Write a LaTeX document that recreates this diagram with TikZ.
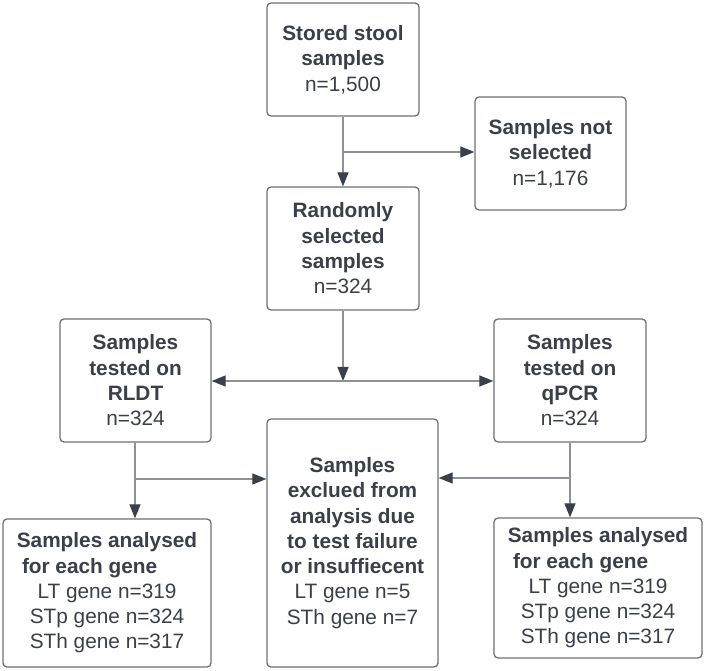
\documentclass[tikz,border=0pt]{standalone}
\usepackage{fontspec}
\setmainfont{Liberation Sans}
\usetikzlibrary{arrows.meta}
\definecolor{txt}{HTML}{3B3F4A}
\definecolor{bord}{HTML}{6E7178}
\definecolor{conn}{HTML}{8E9196}
\begin{document}
\begin{tikzpicture}[x=1pt,y=-1pt,
  box/.style={draw=bord,line width=1.3pt,rounded corners=4pt,fill=white,text=txt,
    align=center,inner sep=0pt,font=\fontsize{20.8}{25.3}\selectfont},
  conn/.style={draw=conn,line width=1.2pt},
  arr/.style={conn,-{Triangle[length=14pt,width=11pt,color=txt]}}]
\fill[white] (0,0) rectangle (705,671);
\useasboundingbox (0,0) rectangle (705,671);

\node[box,minimum width=152pt,minimum height=113pt] (stored) at (343,59.5)
  {\textbf{Stored stool}\\\textbf{samples}\\n=1,500};
\node[box,minimum width=151pt,minimum height=113pt] (notsel) at (550.5,153.5)
  {\textbf{Samples not}\\\textbf{selected}\\n=1,176};
\node[box,minimum width=152pt,minimum height=123pt] (rand) at (343,248.5)
  {\textbf{Randomly}\\\textbf{selected}\\\textbf{samples}\\n=324};
\node[box,minimum width=151pt,minimum height=123pt] (rldt) at (135.5,380.5)
  {\textbf{Samples}\\\textbf{tested on}\\\textbf{RLDT}\\n=324};
\node[box,minimum width=152pt,minimum height=123pt] (qpcr) at (570,380.5)
  {\textbf{Samples}\\\textbf{tested on}\\\textbf{qPCR}\\n=324};
\node[box,minimum width=171pt,minimum height=248pt] (excl) at (352.5,543)
  {\textbf{Samples}\\\textbf{exclued from}\\\textbf{analysis due}\\\textbf{to test failure}\\\textbf{or insuffiecent}\\LT gene n=5\\STh gene n=7};
\node[box,minimum width=208pt,minimum height=148pt] (anl) at (107,593)
  {\textbf{Samples analysed}\\\makebox[180pt][l]{\hspace{5pt}\textbf{for each gene}}\\LT gene n=319\\STp gene n=324\\STh gene n=317};
\node[box,minimum width=208pt,minimum height=140pt] (anr) at (598,588)
  {\textbf{Samples analysed}\\\makebox[180pt][l]{\hspace{5pt}\textbf{for each gene}}\\LT gene n=319\\STp gene n=324\\STh gene n=317};

\coordinate (s1) at (343,152);
\coordinate (j1) at (343,381);
\coordinate (b1) at (135,479);
\coordinate (b2) at (570,478);

\draw[arr] (stored.south) -- (rand.north);
\draw[arr] (s1) -- (s1 -| notsel.west);
\draw[arr] (rand.south) -- (j1);
\draw[arr] (j1) -- (j1 -| rldt.east);
\draw[arr] (j1) -- (j1 -| qpcr.west);
\draw[arr] (rldt.south -| b1) -- (b1 |- anl.north);
\draw[arr] (b1) -- (b1 -| excl.west);
\draw[arr] (qpcr.south -| b2) -- (b2 |- anr.north);
\draw[arr] (b2) -- (b2 -| excl.east);
\end{tikzpicture}
\end{document}
